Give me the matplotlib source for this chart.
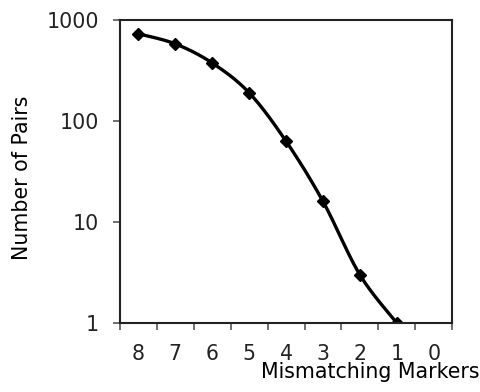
import numpy as np
import matplotlib.pyplot as plt
from matplotlib.ticker import FixedLocator, NullFormatter, FixedFormatter

# データ
categories = ['8', '7', '6', '5', '4', '3', '2', '1', '0']
pairs = [730, 580, 375, 190, 63, 16, 3, 1]  # '0' has no value
yticks = [1, 10, 100, 1000]

plt.rcParams['font.family'] = 'DejaVu Sans'
plt.rcParams['font.size'] = 14.8

fig = plt.figure(figsize=(4.8, 3.92), dpi=100)
ax = fig.add_axes([0.25, 0.176, 0.692, 0.773])

xpos = np.arange(len(pairs)) + 0.5

# Excel風のスムージング線（log空間でCatmull-Rom）
ly = np.log10(pairs)
sx, sy = [], []
for i in range(len(xpos) - 1):
    p0 = (xpos[max(i - 1, 0)], ly[max(i - 1, 0)])
    p1 = (xpos[i], ly[i])
    p2 = (xpos[i + 1], ly[i + 1])
    p3 = (xpos[min(i + 2, len(xpos) - 1)], ly[min(i + 2, len(xpos) - 1)])
    t = np.linspace(0, 1, 30)
    for k in range(2):
        a, b, c, d = p0[k], p1[k], p2[k], p3[k]
        v = 0.5 * ((2 * b) + (-a + c) * t + (2 * a - 5 * b + 4 * c - d) * t**2
                   + (-a + 3 * b - 3 * c + d) * t**3)
        (sx if k == 0 else sy).extend(v)
ax.plot(sx, 10 ** np.array(sy), color='black', lw=2.4, solid_capstyle='round')
ax.plot(xpos, pairs, linestyle='none', marker='D', color='black', markersize=6)

ax.set_yscale('log')
ax.set_ylim(1, 1000)
ax.set_xlim(0, len(categories))
ax.yaxis.set_major_locator(FixedLocator(yticks))
ax.yaxis.set_major_formatter(FixedFormatter([str(v) for v in yticks]))
ax.yaxis.set_minor_locator(FixedLocator([]))

# 目盛りはカテゴリ境界、ラベルは中央
ax.xaxis.set_major_locator(FixedLocator(np.arange(len(categories) + 1)))
ax.xaxis.set_major_formatter(NullFormatter())
ax.xaxis.set_minor_locator(FixedLocator(np.arange(len(categories)) + 0.5))
ax.xaxis.set_minor_formatter(FixedFormatter(categories))
ax.tick_params(axis='x', which='minor', length=0, pad=15, colors='#222222')
ax.tick_params(axis='both', which='major', length=5, width=1.2, direction='out', color='#555555')
ax.tick_params(axis='y', which='major', pad=10, labelcolor='#222222')

for s in ax.spines.values():
    s.set_linewidth(1.5)
    s.set_color('#222222')

ax.set_ylabel('Number of Pairs', color='black', va='center')
ax.yaxis.set_label_coords(-0.295, 0.478)
ax.set_xlabel('Mismatching Markers', ha='right', color='black')
ax.xaxis.set_label_coords(1.083, -0.162)
ax.xaxis.label.set_va('center')

fig.savefig('out.png', dpi=100)
